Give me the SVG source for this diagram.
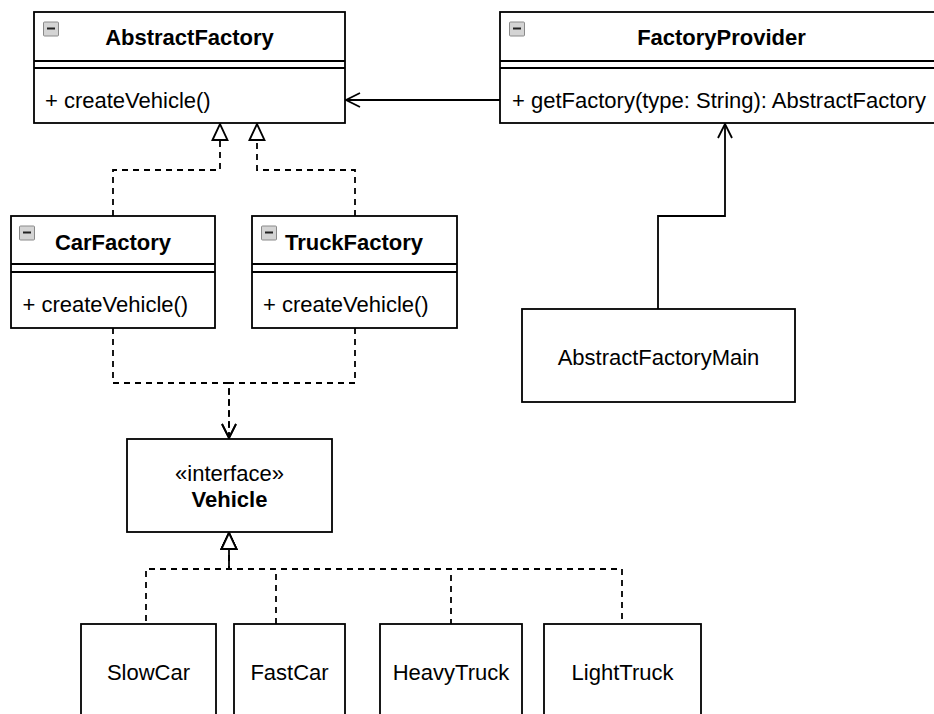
<svg xmlns="http://www.w3.org/2000/svg" width="934" height="714" viewBox="0 0 934 714">
<style>
.box{fill:#fff;stroke:#000;stroke-width:1.8}
.sep{stroke:#000;stroke-width:1.8;fill:none}
.t{font-family:"Liberation Sans",Arial,Helvetica,sans-serif;font-size:22px;fill:#000}
.b{font-weight:bold}
.c{text-anchor:middle}
.edge{fill:none;stroke:#000;stroke-width:1.8}
.dash{stroke-dasharray:6 5}
.icon{fill:#d4d4d4;stroke:#8a8a8a;stroke-width:1}
.minus{stroke:#222;stroke-width:2}
</style>
<defs>
<marker id="open" viewBox="0 0 16 16" refX="15" refY="8" markerWidth="16" markerHeight="16" markerUnits="userSpaceOnUse" orient="auto">
<path d="M1,1 L15,8 L1,15" fill="none" stroke="#000" stroke-width="1.8"/>
</marker>
<marker id="tri" viewBox="0 0 18 18" refX="17" refY="9" markerWidth="18" markerHeight="18" markerUnits="userSpaceOnUse" orient="auto">
<path d="M1,1.5 L17,9 L1,16.5 Z" fill="#fff" stroke="#000" stroke-width="1.8"/>
</marker>
<marker id="triS" viewBox="0 0 18 18" refX="17" refY="9" markerWidth="18" markerHeight="18" markerUnits="userSpaceOnUse" orient="auto-start-reverse">
<path d="M1,1.5 L17,9 L1,16.5 Z" fill="#fff" stroke="#000" stroke-width="1.8"/>
</marker>
</defs>
<rect width="934" height="714" fill="#fff"/>
<g id="connectors">
<path class="edge" d="M500,100 H346" marker-end="url(#open)"/>
<path class="edge" d="M658,309 V216 H725 V124" marker-end="url(#open)"/>
<path class="edge dash" d="M113,216 V170 H220 V124" marker-end="url(#tri)"/>
<path class="edge dash" d="M355,216 V170 H257 V124" marker-end="url(#tri)"/>
<path class="edge dash" d="M113,328 V383 H229 V438" marker-end="url(#open)"/>
<path class="edge dash" d="M355,328 V383 H229 V438" marker-end="url(#open)"/>
<path class="edge" d="M229,569 V548"/>
<path class="edge dash" d="M229,533 V569 H146 V624" marker-start="url(#triS)"/>
<path class="edge dash" d="M229,533 V569 H276 V624" marker-start="url(#triS)"/>
<path class="edge dash" d="M229,533 V569 H451 V624" marker-start="url(#triS)"/>
<path class="edge dash" d="M229,533 V569 H622 V624" marker-start="url(#triS)"/>
</g>
<g id="AbstractFactory">
<rect class="box" x="34" y="12" width="311" height="111"/>
<path class="sep" d="M34,61 H345 M34,68 H345"/>
<rect class="icon" x="43.5" y="22" width="15" height="14" rx="1"/>
<path class="minus" d="M47,28.5 H55"/>
<text class="t b c" x="189.5" y="45">AbstractFactory</text>
<text class="t" x="45" y="108">+ createVehicle()</text>
</g>
<g id="FactoryProvider">
<rect class="box" x="500" y="12" width="443" height="111"/>
<path class="sep" d="M500,61 H943 M500,68 H943"/>
<rect class="icon" x="509.5" y="22" width="15" height="14" rx="1"/>
<path class="minus" d="M513,28.5 H521"/>
<text class="t b c" x="721.5" y="45">FactoryProvider</text>
<text class="t" x="512" y="108">+ getFactory(type: String): AbstractFactory</text>
</g>
<g id="CarFactory">
<rect class="box" x="11" y="216" width="204" height="112"/>
<path class="sep" d="M11,264 H215 M11,272 H215"/>
<rect class="icon" x="19.5" y="226" width="15" height="14" rx="1"/>
<path class="minus" d="M23,232.5 H31"/>
<text class="t b c" x="113" y="250">CarFactory</text>
<text class="t" x="22.5" y="312">+ createVehicle()</text>
</g>
<g id="TruckFactory">
<rect class="box" x="252" y="216" width="205" height="112"/>
<path class="sep" d="M252,264 H457 M252,272 H457"/>
<rect class="icon" x="261.5" y="226" width="15" height="14" rx="1"/>
<path class="minus" d="M265,232.5 H273"/>
<text class="t b c" x="354" y="250">TruckFactory</text>
<text class="t" x="263" y="312">+ createVehicle()</text>
</g>
<g id="AbstractFactoryMain">
<rect class="box" x="522" y="309" width="273" height="93"/>
<text class="t c" x="658.5" y="365">AbstractFactoryMain</text>
</g>
<g id="Vehicle">
<rect class="box" x="127" y="439" width="205" height="93"/>
<text class="t c" x="229.5" y="481">«interface»</text>
<text class="t b c" x="229.5" y="507">Vehicle</text>
</g>
<g id="SlowCar">
<rect class="box" x="81" y="624" width="135" height="100"/>
<text class="t c" x="148.5" y="680">SlowCar</text>
</g>
<g id="FastCar">
<rect class="box" x="234" y="624" width="111" height="100"/>
<text class="t c" x="289.5" y="680">FastCar</text>
</g>
<g id="HeavyTruck">
<rect class="box" x="380" y="624" width="142" height="100"/>
<text class="t c" x="451" y="680">HeavyTruck</text>
</g>
<g id="LightTruck">
<rect class="box" x="544" y="624" width="157" height="100"/>
<text class="t c" x="622.5" y="680">LightTruck</text>
</g>
</svg>
